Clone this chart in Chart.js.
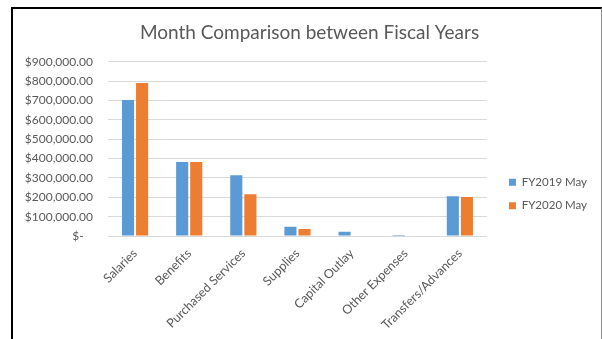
<!DOCTYPE html>
<html>
<head>
<meta charset="utf-8">
<script src="https://cdn.jsdelivr.net/npm/chart.js@4.4.1/dist/chart.umd.min.js"></script>
<style>
  html, body { margin: 0; padding: 0; background: #fff; }
  body { width: 602px; height: 339px; position: relative; overflow: hidden; }
  .frame {
    position: absolute; left: 11px; top: 7px; width: 588px; height: 340px;
    border-left: 2px solid #000; border-top: 2px solid #000; border-right: 1px solid #8c8c8c;
  }
  #chart { position: absolute; left: 0; top: 0; }
</style>
</head>
<body>
<div class="frame"></div>
<canvas id="chart" width="602" height="339"></canvas>
<script>
// data
const categories = ['Salaries', 'Benefits', 'Purchased Services', 'Supplies', 'Capital Outlay', 'Other Expenses', 'Transfers/Advances'];
const fy2019May = [702000, 382000, 314000, 48000, 22000, 5000, 206000];
const fy2020May = [790000, 382000, 216000, 36000, 0, 0, 202000];
const seriesNames = ['FY2019 May', 'FY2020 May'];
const yTicks = [0, 100000, 200000, 300000, 400000, 500000, 600000, 700000, 800000, 900000];

const textColor = '#595959';
const gridColor = '#d9d9d9';
const fontFamily = 'Lato, "Open Sans", sans-serif';

// Excel style accounting labels
const money = (v) => {
  if (v === 0) return '$-   ';
  return '$' + v.toLocaleString('en-US', { minimumFractionDigits: 2, maximumFractionDigits: 2 });
};

// nudge legend and title so they sit like the excel ones
const boxShift = {
  id: 'boxShift',
  afterLayout(chart) {
    const lg = chart.legend;
    if (lg) {
      lg.top += 22;
      lg.bottom += 22;
      lg.left += 10;
      lg.right += 10;
    }
    const tt = chart.titleBlock;
    if (tt) {
      tt.left += 4;
      tt.right += 4;
    }
  }
};

new Chart(document.getElementById('chart'), {
  type: 'bar',
  data: {
    labels: categories,
    datasets: [
      { label: seriesNames[0], data: fy2019May, backgroundColor: '#5b9bd5' },
      { label: seriesNames[1], data: fy2020May, backgroundColor: '#ed7d31' },
    ],
  },
  options: {
    responsive: false,
    animation: false,
    devicePixelRatio: 1,
    categoryPercentage: 0.52,
    barPercentage: 0.86,
    layout: { padding: { left: 24, right: 15, top: 9, bottom: 4 } },
    plugins: {
      title: {
        display: true,
        text: 'Month Comparison between Fiscal Years',
        color: textColor,
        font: { family: fontFamily, size: 19, weight: 'normal' },
        padding: { top: 12, bottom: 18 },
      },
      legend: {
        position: 'right',
        labels: {
          color: textColor,
          font: { family: fontFamily, size: 11.5 },
          usePointStyle: true,
          pointStyle: 'rect',
          boxWidth: 7,
          boxHeight: 7,
          padding: 12,
        },
      },
      tooltip: { enabled: false },
    },
    scales: {
      x: {
        grid: { display: false },
        border: { color: gridColor },
        ticks: {
          color: textColor,
          font: { family: fontFamily, size: 12.5 },
          minRotation: 45,
          maxRotation: 45,
          padding: 2,
        },
        afterFit(scale) { scale.height = 99; },
      },
      y: {
        min: 0,
        max: 900000,
        afterBuildTicks(scale) { scale.ticks = yTicks.map(v => ({ value: v })); },
        grid: { color: gridColor, drawTicks: false },
        border: { display: false },
        ticks: {
          color: textColor,
          font: { family: fontFamily, size: 12 },
          padding: 15,
          callback: (v) => money(v),
        },
        afterFit(scale) { scale.width = 84; },
      },
    },
  },
  plugins: [boxShift],
});
</script>
</body>
</html>
